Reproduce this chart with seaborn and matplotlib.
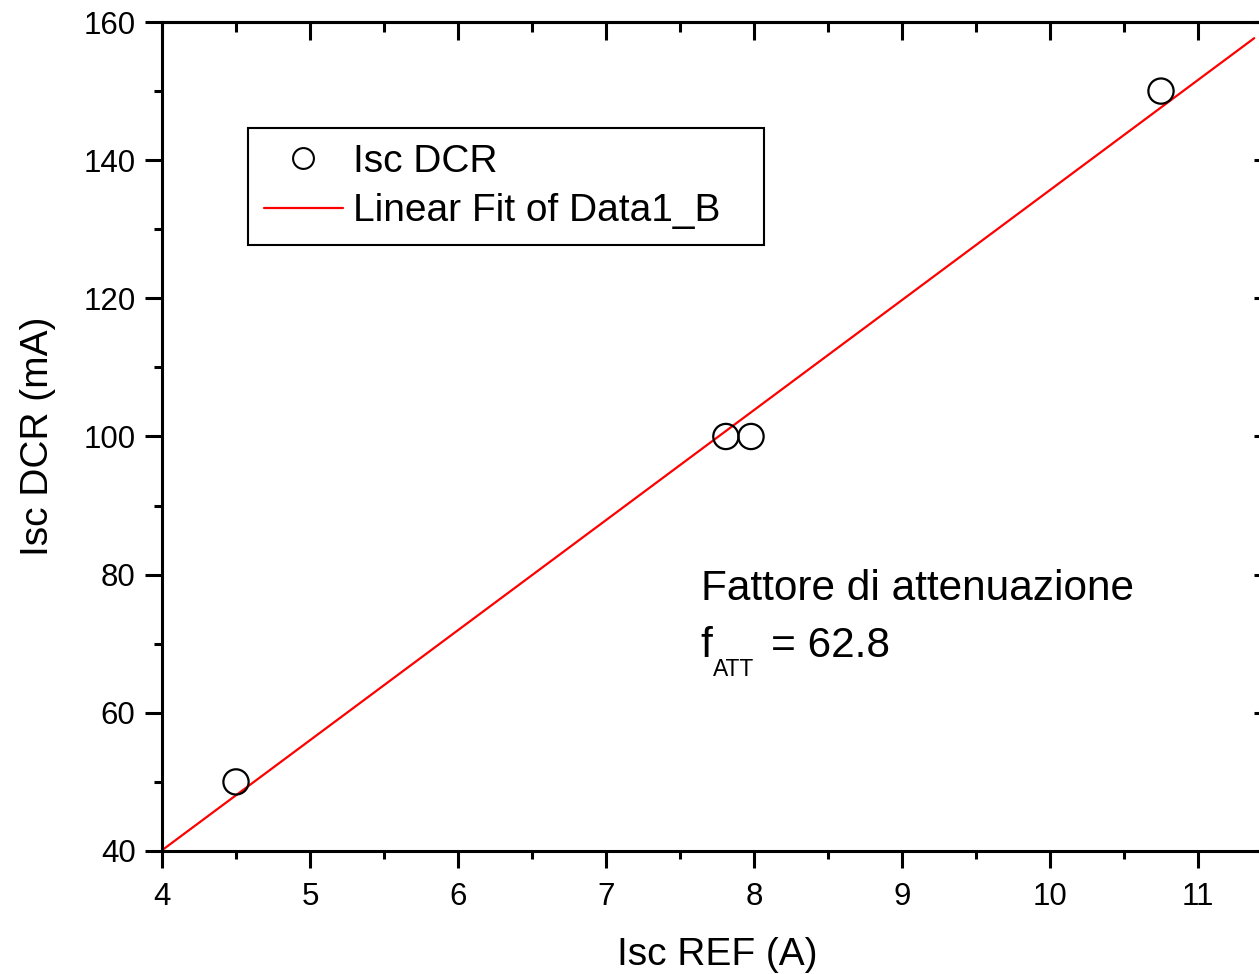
import numpy as np
import pandas as pd
import matplotlib
matplotlib.use("Agg")
import matplotlib.pyplot as plt
from matplotlib.lines import Line2D
from matplotlib.ticker import MultipleLocator
import seaborn as sns

# Measured short-circuit currents
isc_ref = [4.50, 7.81, 7.98, 10.75]      # A
isc_dcr = [50, 100, 100, 150]            # mA

x_range = (4.0, 11.5)
y_range = (40, 160)
fit_x_end = 11.38

sns.set_theme(style="ticks")
plt.rcParams["font.family"] = ["Liberation Sans", "DejaVu Sans"]
for key in ("text.color", "axes.labelcolor", "xtick.color", "ytick.color",
            "axes.edgecolor"):
    plt.rcParams[key] = "black"

W, H = 1259, 974
fig = plt.figure(figsize=(W / 100, H / 100), dpi=100)
ax = fig.add_axes([162 / W, 1 - 851 / H, (1272 - 162) / W, (851 - 22) / H])

df = pd.DataFrame({"ref": isc_ref, "dcr": isc_dcr})

# Linear fit of DCR current against reference current
slope, intercept = np.polyfit(df["ref"], df["dcr"], 1)
fit_x = np.array([x_range[0], fit_x_end])
fit_df = pd.DataFrame({"x": fit_x, "y": slope * fit_x + intercept})
f_att = 1000.0 / slope  # mA per A -> attenuation factor

sns.lineplot(data=fit_df, x="x", y="y", ax=ax, color="#ff0000", linewidth=1.6, zorder=2)
sns.scatterplot(data=df, x="ref", y="dcr", ax=ax, marker="o", s=330,
                facecolor="none", edgecolor="black", linewidth=1.6, zorder=3)

ax.set_xlim(*x_range)
ax.set_ylim(*y_range)

ax.xaxis.set_major_locator(MultipleLocator(1))
ax.xaxis.set_minor_locator(MultipleLocator(0.5))
ax.yaxis.set_major_locator(MultipleLocator(20))
ax.yaxis.set_minor_locator(MultipleLocator(10))

for s in ax.spines.values():
    s.set_linewidth(2.2)
    s.set_color("black")

ax.tick_params(which="both", direction="out", width=2.2, color="black",
               bottom=True, left=True, top=False, right=False)
ax.tick_params(which="major", length=12)
ax.tick_params(which="minor", length=6)
ax.tick_params(axis="x", which="major", labelsize=22.5, pad=10)
ax.tick_params(axis="y", which="major", labelsize=22.5, pad=7)

# Inward ticks on the top and right edges
secx = ax.secondary_xaxis("top")
secx.xaxis.set_major_locator(MultipleLocator(1))
secx.xaxis.set_minor_locator(MultipleLocator(0.5))
secx.tick_params(which="both", direction="in", width=2.2, color="black", labeltop=False)
secx.tick_params(which="major", length=13)
secx.tick_params(which="minor", length=7)
secx.spines["top"].set_linewidth(2.2)
secy = ax.secondary_yaxis("right")
secy.yaxis.set_major_locator(MultipleLocator(20))
secy.yaxis.set_minor_locator(MultipleLocator(10))
secy.tick_params(which="both", direction="in", width=2.2, color="black", labelright=False)
secy.tick_params(which="major", length=13)
secy.tick_params(which="minor", length=7)

ax.set_xlabel("Isc REF (A)", fontsize=28, labelpad=18)
ax.set_ylabel("Isc DCR (mA)", fontsize=28, labelpad=20)

handles = [
    Line2D([], [], linestyle="none", marker="o", markersize=15,
           markerfacecolor="none", markeredgecolor="black", markeredgewidth=1.5),
    Line2D([], [], color="#ff0000", linewidth=1.6),
]
lx0 = (248 - 162) / 1110
ly0 = (851 - 244) / 829
lw = (764 - 248) / 1110
lh = (244 - 128) / 829
leg = ax.legend(handles, ["Isc DCR", "Linear Fit of Data1_B"],
                loc="upper left", bbox_to_anchor=(lx0, ly0, lw, lh), mode="expand",
                borderaxespad=0, fontsize=28, frameon=True, fancybox=False,
                handlelength=2.05, handletextpad=0.25, borderpad=0.4,
                labelspacing=0.35)
leg.get_frame().set_edgecolor("black")
leg.get_frame().set_linewidth(1.5)
leg.get_frame().set_alpha(1)

ax.text(7.64, 76.33, "Fattore di attenuazione", fontsize=30.5, va="baseline", ha="left")
t_f = ax.text(7.64, 68.08, "f", fontsize=30.5, va="baseline", ha="left")
t_sub = ax.annotate("ATT", xy=(1, 0), xycoords=t_f, xytext=(0, -7.2),
                    textcoords="offset points", fontsize=16.5, va="baseline", ha="left")
ax.annotate(f"= {f_att:.1f}", xy=(1, 0), xycoords=(t_sub, t_f), xytext=(12.5, 0),
            textcoords="offset points", fontsize=30.5, va="bottom", ha="left")

fig.savefig("out.png", dpi=100)
